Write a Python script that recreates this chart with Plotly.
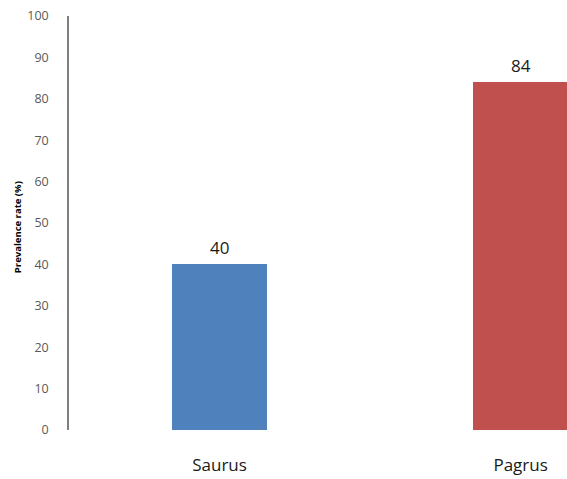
import plotly.graph_objects as go

categories = ["Saurus", "Pagrus"]
values = [40, 84]
colors = ["#4F81BD", "#C0504D"]
y_ticks = [0, 10, 20, 30, 40, 50, 60, 70, 80, 90, 100]

fig = go.Figure()
fig.add_trace(go.Bar(
    x=categories, y=values, marker_color=colors, width=0.316,
    marker_line_width=0, hoverinfo="skip",
))

for c, v in zip(categories, values):
    fig.add_annotation(x=c, y=v, text=str(v), showarrow=False,
                       yanchor="bottom", yshift=3,
                       font=dict(family="Open Sans", size=17, color="#1a1a1a"))

fig.add_annotation(xref="paper", yref="paper", x=-0.1044, y=0.49,
                   text="<b>Prevalence rate (%)</b>", textangle=-90,
                   showarrow=False, xanchor="center", yanchor="middle",
                   font=dict(family="Open Sans", size=9.5, color="#000000"))

fig.update_layout(
    width=567, height=479,
    margin=dict(l=69, r=0, t=16, b=49),
    paper_bgcolor="white", plot_bgcolor="white",
    showlegend=False,
    bargap=0,
)
fig.update_xaxes(range=[-0.5, 1.154], showline=False, showgrid=False,
                 zeroline=False, ticks="", ticklabelstandoff=23,
                 tickfont=dict(family="Open Sans", size=17, color="#1a1a1a"))
fig.update_yaxes(range=[0, 100], tickvals=y_ticks, showline=True,
                 linecolor="#7f7f7f", linewidth=1.5, showgrid=False,
                 zeroline=False, ticks="", ticklabelstandoff=16,
                 tickfont=dict(family="Open Sans", size=12.5, color="#595959"))

fig.write_html("out.html")
